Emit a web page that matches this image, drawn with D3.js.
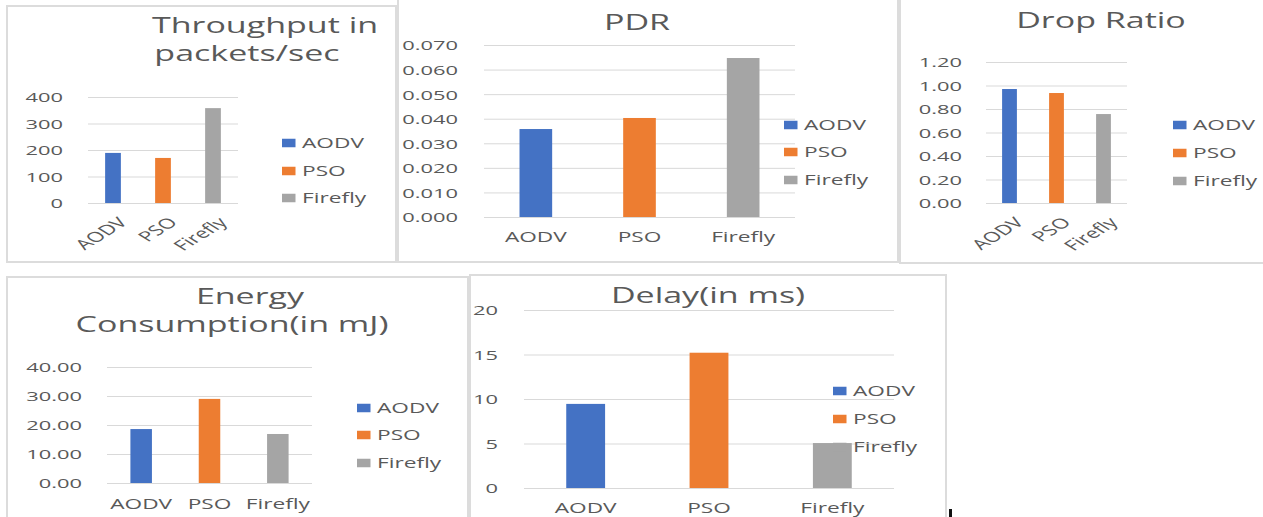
<!DOCTYPE html>
<html>
<head>
<meta charset="utf-8">
<script src="https://cdn.jsdelivr.net/npm/d3@7"></script>
<style>
  body { margin: 0; background: #fff; }
  svg { display: block; font-family: "Open Sans", sans-serif; }
</style>
</head>
<body>
<svg id="chart" width="1263" height="517"></svg>
<script>
// Data
const categories = ['AODV', 'PSO', 'Firefly'];
const seriesColors = ['#4472C4', '#ED7D31', '#A5A5A5'];

const throughputValues = [189, 170, 358];
const pdrValues = [0.0358, 0.0403, 0.0647];
const dropRatioValues = [0.970, 0.936, 0.757];
const energyValues = [18.6, 29.0, 16.9];
const delayValues = [9.45, 15.2, 5.05];

const throughputTicks = [0, 100, 200, 300, 400];
const pdrTicks = [0, 0.01, 0.02, 0.03, 0.04, 0.05, 0.06, 0.07];
const dropRatioTicks = [0, 0.2, 0.4, 0.6, 0.8, 1.0, 1.2];
const energyTicks = [0, 10, 20, 30, 40];
const delayTicks = [0, 5, 10, 15, 20];

// the source picture is stretched sideways, text too
const SX = 1.62;
const textColor = '#595959';
const gridColor = '#d9d9d9';
const borderColor = '#dcdcdc';

const panels = [
  { box: [7, 6, 396, 262], title: [['Throughput in', 265, 33], ['packets/sec', 247, 61]],
    values: throughputValues, ticks: throughputTicks, fmt: d3.format('d'),
    left: 88, right: 238, top: 97, zero: 203, labelX: 63,
    rotate: true, legX: 282, legY: [143, 171, 198] },
  { box: [398, -5, 898, 262], title: [['PDR', 637, 30]],
    values: pdrValues, ticks: pdrTicks, fmt: d3.format('.3f'),
    left: 484, right: 795, top: 45, zero: 217, labelX: 458,
    rotate: false, catY: 242, legX: 784, legY: [125, 152, 180] },
  { box: [900, -5, 1275, 263], title: [['Drop Ratio', 1101, 28]],
    values: dropRatioValues, ticks: dropRatioTicks, fmt: d3.format('.2f'),
    left: 986, right: 1127, top: 62, zero: 203, labelX: 962,
    rotate: true, legX: 1173, legY: [125, 153, 181] },
  { box: [7, 277, 468, 530], title: [['Energy', 250, 304], ['Consumption(in mJ)', 232, 332]],
    values: energyValues, ticks: energyTicks, fmt: d3.format('.2f'),
    left: 107, right: 312, top: 367, zero: 483, labelX: 82,
    rotate: false, catY: 509, legX: 357, legY: [408, 435, 463] },
  { box: [470, 275, 946, 530], title: [['Delay(in ms)', 708, 303]],
    values: delayValues, ticks: delayTicks, fmt: d3.format('d'),
    left: 524, right: 894, top: 310, zero: 488, labelX: 498,
    rotate: false, catY: 513, legX: 833, legY: [391, 419, 447] }
];

const svg = d3.select('#chart');
svg.append('rect').attr('width', 1263).attr('height', 517).attr('fill', '#fff');

panels.forEach(drawPanel);

// little cursor mark at the bottom
svg.append('rect').attr('x', 949).attr('y', 509).attr('width', 3).attr('height', 8).attr('fill', '#111');

function drawPanel(p) {
  const g = svg.append('g');
  const [x0, y0, x1, y1] = p.box;

  g.append('rect')
    .attr('x', x0).attr('y', y0).attr('width', x1 - x0).attr('height', y1 - y0)
    .attr('fill', 'none').attr('stroke', borderColor).attr('stroke-width', 2);

  // title
  g.selectAll('.title').data(p.title).enter().append('text')
    .attr('class', 'title')
    .attr('transform', d => `translate(${d[1]},${d[2]}) scale(${SX},1)`)
    .attr('text-anchor', 'middle')
    .attr('fill', textColor)
    .style('font-size', '21px')
    .text(d => d[0]);

  const x = d3.scaleBand().domain(categories).range([p.left, p.right])
    .paddingInner(0.685).paddingOuter(0.3425);
  const y = d3.scaleLinear().domain([0, d3.max(p.ticks)]).range([p.zero, p.top]);

  // gridlines and value labels
  const pad = p.left - p.labelX;
  const axis = g.append('g')
    .attr('transform', `translate(${p.left},0)`)
    .call(d3.axisLeft(y).tickValues(p.ticks).tickFormat(p.fmt)
      .tickSize(-(p.right - p.left)).tickPadding(pad));
  axis.select('.domain').remove();
  axis.selectAll('line').attr('stroke', gridColor);
  axis.selectAll('text')
    .attr('x', null)
    .attr('dy', '0.36em')
    .attr('transform', `translate(${-pad},0) scale(${SX},1)`)
    .attr('fill', textColor)
    .style('font-size', '13.5px');
  axis.attr('font-family', null).attr('font-size', null);

  // bars
  g.selectAll('.bar').data(p.values).enter().append('rect')
    .attr('class', 'bar')
    .attr('x', (d, i) => x(categories[i]))
    .attr('width', x.bandwidth())
    .attr('y', d => y(d))
    .attr('height', d => y(0) - y(d))
    .attr('fill', (d, i) => seriesColors[i]);

  // category labels
  const cat = g.selectAll('.cat').data(categories).enter().append('text')
    .attr('class', 'cat')
    .attr('fill', textColor)
    .style('font-size', '14px')
    .text(d => d);
  if (p.rotate) {
    cat.attr('text-anchor', 'end')
      .attr('dominant-baseline', 'hanging')
      .attr('transform', d => `translate(${x(d) + x.bandwidth() / 2 + 2},${p.zero + 12}) scale(${SX},1) rotate(-45)`);
  } else {
    cat.attr('text-anchor', 'middle')
      .attr('transform', d => `translate(${x(d) + x.bandwidth() / 2},${p.catY}) scale(${SX},1)`);
  }

  // legend
  const leg = g.selectAll('.leg').data(categories).enter().append('g').attr('class', 'leg');
  leg.append('rect')
    .attr('x', p.legX).attr('y', (d, i) => p.legY[i] - 4.25)
    .attr('width', 13.5).attr('height', 8.5)
    .attr('fill', (d, i) => seriesColors[i]);
  leg.append('text')
    .attr('transform', (d, i) => `translate(${p.legX + 20},${p.legY[i]}) scale(${SX},1)`)
    .attr('dy', '0.36em')
    .attr('fill', textColor)
    .style('font-size', '14px')
    .text(d => d);
}
</script>
</body>
</html>
